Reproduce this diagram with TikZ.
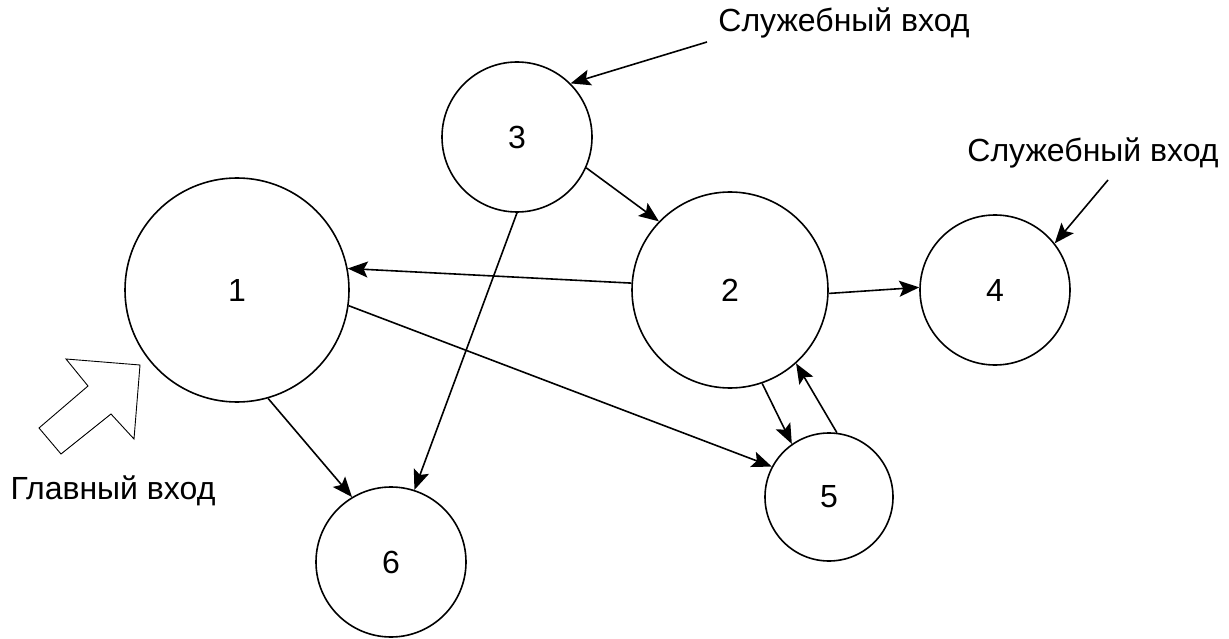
\documentclass[tikz,border=0pt]{standalone}
\usepackage{fontspec}
\setmainfont{Liberation Sans}
\usetikzlibrary{arrows.meta}
\begin{document}
\begin{tikzpicture}[x=1pt,y=-1pt,
  vertex/.style={circle,draw,line width=1.6pt,inner sep=0pt,font=\fontsize{32}{38}\selectfont},
  lbl/.style={inner sep=0pt,font=\fontsize{32}{38}\selectfont},
  link/.style={line width=1.6pt,-{Stealth[length=20pt,width=16pt,inset=4pt]}}]
\useasboundingbox (0,0) rectangle (1229,639);
% graph vertices
\node[vertex,minimum size=224pt] (n1) at (237,290) {1};
\node[vertex,minimum size=196pt] (n2) at (730,290) {2};
\node[vertex,minimum size=150pt] (n3) at (517,137) {3};
\node[vertex,minimum size=150pt] (n4) at (995,290) {4};
\node[vertex,minimum size=128pt] (n5) at (829,497) {5};
\node[vertex,minimum size=150pt] (n6) at (391,562) {6};
% entry labels
\node[lbl] (s1) at (844,23) {Служебный вход};
\node[lbl] (s2) at (1093,153) {Служебный вход};
\node[lbl] (g) at (113,491) {Главный вход};
\coordinate (s1e) at (707,42);
\coordinate (s2e) at (1108,180);
% connectors
\draw[link] (s1e) -- (n3.45);
\draw[link] (s2e) -- (n4.38);
\draw[link] (n3.-24) -- (n2.136);
\draw[link] (n2.176) -- (n1.11);
\draw[link] (n2.-2) -- (n4.178.5);
\draw[link] (n1.-8.6) -- (n5.152);
\draw[link] (n1.-74) -- (n6.121);
\draw[link] (n3.-90) -- (n6.72);
\draw[link] (n2.-71) -- (n5.125);
\draw[link] (n5.83) -- (n2.-48);
% hollow main entrance arrow
\draw[line width=0.9pt,line join=miter] (66,359) -- (140,365) -- (134,439) -- (111,414) -- (61,454) -- (39,428) -- (88,386) -- cycle;
\end{tikzpicture}
\end{document}
